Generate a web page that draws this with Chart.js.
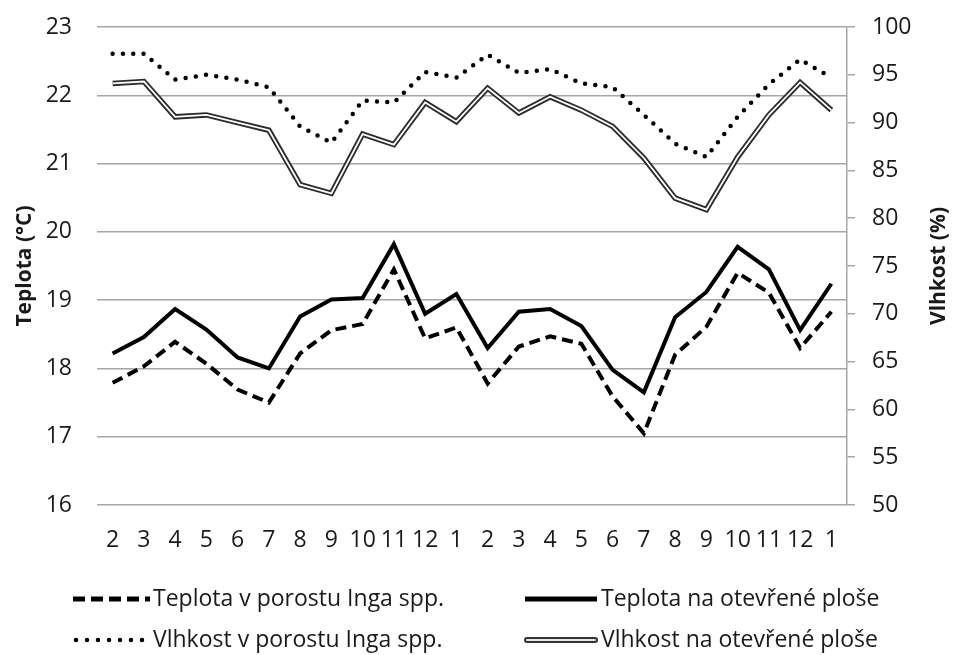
<!DOCTYPE html>
<html lang="cs">
<head>
<meta charset="utf-8">
<title>Teplota a vlhkost</title>
<script src="https://cdn.jsdelivr.net/npm/chart.js@4.4.1/dist/chart.umd.min.js"></script>
<style>
    html, body { margin: 0; padding: 0; background: #fff; }
    #graf { display: block; }
</style>
</head>
<body>
<canvas id="graf" width="953" height="655"></canvas>
<script>
const mesice = ["2", "3", "4", "5", "6", "7", "8", "9", "10", "11", "12", "1",
                "2", "3", "4", "5", "6", "7", "8", "9", "10", "11", "12", "1"];

const teplotaPorost = [17.79, 18.03, 18.39, 18.07, 17.69, 17.50, 18.22, 18.56, 18.65, 19.45, 18.44, 18.60,
                       17.78, 18.32, 18.47, 18.36, 17.59, 17.05, 18.20, 18.61, 19.40, 19.11, 18.30, 18.83];
const teplotaOtevrena = [18.22, 18.46, 18.87, 18.57, 18.16, 18.00, 18.76, 19.01, 19.03, 19.82, 18.80, 19.09,
                         18.30, 18.83, 18.87, 18.62, 17.98, 17.65, 18.75, 19.12, 19.78, 19.45, 18.56, 19.24];
const vlhkostPorost = [97.2, 97.2, 94.5, 95.0, 94.5, 93.7, 89.6, 87.9, 92.3, 92.1, 95.3, 94.7,
                       97.1, 95.2, 95.6, 94.1, 93.7, 90.8, 87.8, 86.4, 90.6, 94.0, 96.6, 94.7];
const vlhkostOtevrena = [94.1, 94.3, 90.6, 90.8, 90.0, 89.2, 83.5, 82.6, 88.8, 87.7, 92.1, 90.1,
                         93.6, 91.0, 92.7, 91.3, 89.6, 86.3, 82.1, 80.9, 86.4, 90.8, 94.2, 91.3];

const teplotaTicks = [16, 23, 1];   // min, max, krok
const vlhkostTicks = [50, 100, 5];

const nazvy = ["Teplota v porostu Inga spp.", "Teplota na otevřené ploše",
               "Vlhkost v porostu Inga spp.", "Vlhkost na otevřené ploše"];

const PISMO = "'Open Sans', 'DejaVu Sans', sans-serif";
const TEXT = "#1a1a1a";
const MRIZKA = "#a6a6a6";

// popisek pravé osy (čte se zdola nahoru) + legenda
const kresba = {
    id: "kresba",
    afterDraw(chart) {
        const c = chart.ctx;
        c.save();
        c.fillStyle = TEXT;
        c.font = "bold 21px " + PISMO;
        c.textAlign = "center";
        c.textBaseline = "middle";
        c.translate(939, (chart.chartArea.top + chart.chartArea.bottom) / 2);
        c.rotate(-Math.PI / 2);
        c.fillText("Vlhkost (%)", 0, 0);
        c.restore();

        const radky = [599, 640];
        const sloupce = [[73, 150, 153], [525, 597, 601]];
        const znacky = [
            c => { c.lineWidth = 5; c.setLineDash([12, 6]); c.strokeStyle = "#000"; },
            c => { c.lineWidth = 5; c.strokeStyle = "#000"; },
            c => { c.lineWidth = 4.5; c.lineCap = "round"; c.setLineDash([0, 11]); c.strokeStyle = "#000"; },
            null
        ];
        nazvy.forEach((nazev, i) => {
            const y = radky[Math.floor(i / 2)];
            const [x0, x1, xt] = sloupce[i % 2];
            c.save();
            if (znacky[i]) {
                znacky[i](c);
                c.beginPath(); c.moveTo(x0 + (i === 2 ? 3 : 0), y); c.lineTo(x1, y); c.stroke();
            } else {
                c.lineCap = "round";
                c.lineWidth = 6; c.strokeStyle = "#333";
                c.beginPath(); c.moveTo(x0 + 2, y); c.lineTo(x1 - 2, y); c.stroke();
                c.lineWidth = 2; c.strokeStyle = "#e6e6e6";
                c.beginPath(); c.moveTo(x0 + 2, y); c.lineTo(x1 - 2, y); c.stroke();
            }
            c.restore();
            c.save();
            c.fillStyle = TEXT;
            c.font = "23px " + PISMO;
            c.textAlign = "left";
            c.textBaseline = "middle";
            c.fillText(nazev, xt, y);
            c.restore();
        });
    }
};

// pevná šířka osy, bez přídavku nahoře/dole kvůli popiskům
function pevnaOsa(sirka) {
    return s => {
        s.width = sirka;
        s.paddingTop = 0;
        s.paddingBottom = 0;
    };
}

document.addEventListener("DOMContentLoaded", function() {
    const ctx = document.getElementById("graf").getContext("2d");
    new Chart(ctx, {
        type: "line",
        data: {
            labels: mesice,
            datasets: [
                {
                    label: nazvy[0],
                    data: teplotaPorost,
                    yAxisID: "y",
                    borderColor: "#000",
                    borderWidth: 4,
                    borderDash: [11, 6],
                    pointRadius: 0,
                    tension: 0,
                    order: 2
                },
                {
                    label: nazvy[1],
                    data: teplotaOtevrena,
                    yAxisID: "y",
                    borderColor: "#000",
                    borderWidth: 4,
                    pointRadius: 0,
                    tension: 0,
                    order: 2
                },
                {
                    label: nazvy[2],
                    data: vlhkostPorost,
                    yAxisID: "y1",
                    borderColor: "#000",
                    borderWidth: 4.5,
                    borderDash: [0, 10.3],
                    borderCapStyle: "round",
                    pointRadius: 0,
                    tension: 0,
                    order: 2
                },
                {
                    label: nazvy[3],
                    data: vlhkostOtevrena,
                    yAxisID: "y1",
                    borderColor: "#2b2b2b",
                    borderWidth: 5.5,
                    pointRadius: 0,
                    tension: 0,
                    order: 1
                },
                {
                    // světlý střed dvojité čáry
                    label: "",
                    data: vlhkostOtevrena,
                    yAxisID: "y1",
                    borderColor: "#ffffff",
                    borderWidth: 1.8,
                    pointRadius: 0,
                    tension: 0,
                    order: 0
                }
            ]
        },
        options: {
            responsive: false,
            animation: false,
            layout: { padding: { top: 27, bottom: 90, left: 0, right: 0 } },
            plugins: {
                legend: { display: false },
                tooltip: { enabled: false }
            },
            scales: {
                x: {
                    offset: true,
                    grid: { display: false },
                    border: { display: false },
                    ticks: {
                        color: TEXT,
                        font: { family: PISMO, size: 23 },
                        padding: 14,
                        autoSkip: false,
                        maxRotation: 0
                    },
                    afterFit: s => { s.height = 60; }
                },
                y: {
                    position: "left",
                    min: teplotaTicks[0],
                    max: teplotaTicks[1],
                    ticks: {
                        stepSize: teplotaTicks[2],
                        color: TEXT,
                        font: { family: PISMO, size: 23 },
                        padding: 25
                    },
                    grid: { color: MRIZKA, lineWidth: 1.5, drawTicks: false },
                    border: { display: false },
                    title: {
                        display: true,
                        text: "Teplota (°C)",
                        color: TEXT,
                        font: { family: PISMO, size: 21, weight: "bold" },
                        padding: { top: 12, bottom: 0 }
                    },
                    afterFit: pevnaOsa(97)
                },
                y1: {
                    position: "right",
                    min: vlhkostTicks[0],
                    max: vlhkostTicks[1],
                    ticks: {
                        stepSize: vlhkostTicks[2],
                        color: TEXT,
                        font: { family: PISMO, size: 23 },
                        padding: 17
                    },
                    grid: { drawOnChartArea: false, color: MRIZKA, lineWidth: 1.5, tickLength: 8 },
                    border: { display: true, color: MRIZKA, width: 1.5 },
                    afterFit: pevnaOsa(106)
                }
            }
        },
        plugins: [kresba]
    });
});
</script>
</body>
</html>
